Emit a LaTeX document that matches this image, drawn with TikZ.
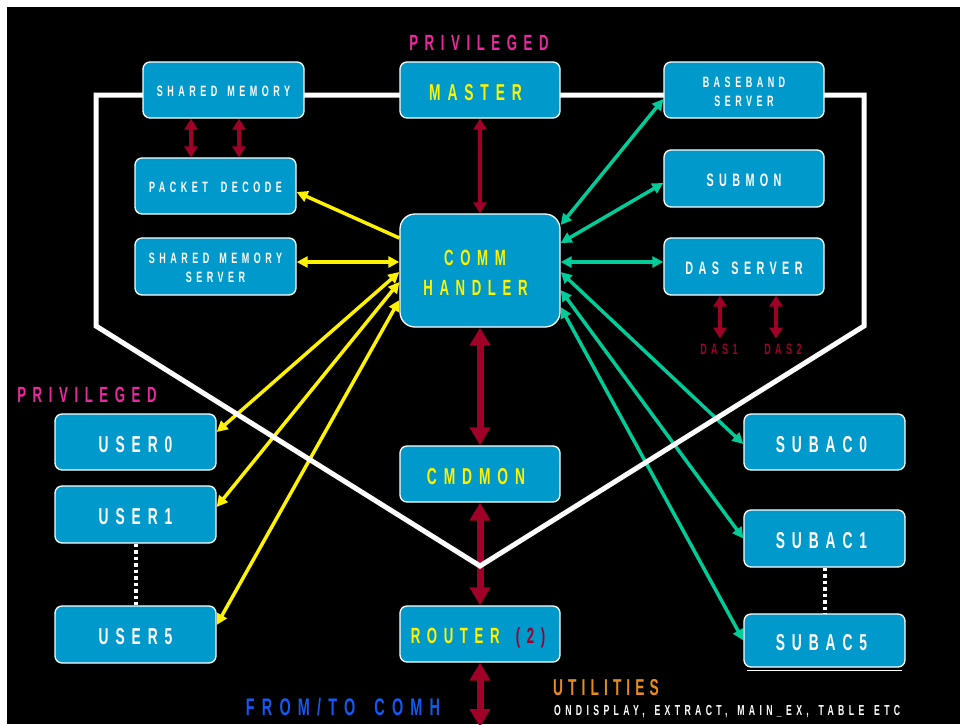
\documentclass[tikz,border=0pt]{standalone}
\usepackage{fontspec}
\usetikzlibrary{arrows.meta}
% condensed, widely tracked sans for every label
\newfontfamily\lblfont[FakeStretch=0.6,LetterSpace=30]{Liberation Sans}
\newfontfamily\utilfont[FakeStretch=0.6,LetterSpace=22]{Liberation Sans}
\newcommand\lblsize[2]{\fontsize{#1}{#2}\selectfont}
\definecolor{boxblue}{RGB}{0,153,204}
\definecolor{darkred}{RGB}{160,0,40}
\definecolor{tealgreen}{RGB}{0,204,153}
\definecolor{privpink}{RGB}{235,40,160}
\definecolor{linkblue}{RGB}{20,90,240}
\definecolor{utilorange}{RGB}{230,140,30}
\pgfdeclarelayer{ground}
\pgfdeclarelayer{links}
\pgfsetlayers{ground,links,main}
\tikzset{
  box/.style={draw=white, line width=1.3pt, fill=boxblue, rounded corners=7pt,
    minimum width=160pt, minimum height=56pt, inner sep=0pt, align=center, text=white},
  bigbox/.style={box, rounded corners=15pt, minimum height=113pt},
  t14/.style={font=\lblfont\bfseries\lblsize{14.5}{17}},
  t15/.style={font=\lblfont\bfseries\lblsize{15}{19}},
  t18/.style={font=\lblfont\bfseries\lblsize{18}{21}},
  t22/.style={font=\lblfont\bfseries\lblsize{22}{30}},
  t23/.style={font=\lblfont\bfseries\lblsize{23}{26}},
  % caps sit slightly below the middle of each box
  low15/.style={text height=13.7pt, text depth=0pt},
  low18/.style={text height=16.4pt, text depth=0pt},
  low22/.style={text height=19.7pt, text depth=0pt},
  low23/.style={text height=20.5pt, text depth=0pt},
  hot/.style={text=yellow},
  redA/.style={draw=darkred, line width=4.5pt,
    {Triangle[length=11pt,width=13pt]}-{Triangle[length=11pt,width=13pt]}},
  redB/.style={draw=darkred, line width=7pt,
    {Triangle[length=18pt,width=20pt]}-{Triangle[length=18pt,width=20pt]}},
  yelA/.style={draw=yellow, line width=3.5pt, -{Triangle[length=11pt,width=11pt]}},
  yelB/.style={draw=yellow, line width=3.5pt,
    {Triangle[length=11pt,width=11pt]}-{Triangle[length=11pt,width=11pt]}},
  grnB/.style={draw=tealgreen, line width=3.5pt,
    {Triangle[length=11pt,width=11pt]}-{Triangle[length=11pt,width=11pt]}},
  dots/.style={draw=white, line width=4pt, dash pattern=on 3.5pt off 3pt},
  frame/.style={draw=white, line width=5pt, line join=miter},
  free/.style={inner sep=0pt}
}
\begin{document}
\begin{tikzpicture}[x=1pt,y=-1pt]
% page: thin white margin at top and left, black field
\begin{pgfonlayer}{ground}
\fill[white] (0,0) rectangle (960,724);
\fill[black] (7,7) rectangle (960,724);
\end{pgfonlayer}
\useasboundingbox (0,0) rectangle (960,724);

% boxes
\node[box, t15, low15, minimum width=161pt] (shm) at (223.5,90) {SHARED \hspace*{3pt}MEMORY};
\node[box, t23, low23, hot] (master) at (480,90) {MASTER\kern9pt};
\node[box, t15, text height=33.7pt, text depth=0pt] (base) at (744,90) {BASEBAND\\SERVER};
\node[box, t15, low15, minimum width=161pt] (pd) at (215.5,186) {PACKET \hspace*{6pt}DECODE};
\node[box, t15, text height=31.7pt, text depth=0pt, minimum width=161pt, minimum height=57pt] (shms) at (215.5,266.5) {SHARED \hspace*{3pt}MEMORY\\SERVER};
\node[box, t18, low18, minimum height=57pt] (submon) at (744,178.5) {SUBMON};
\node[bigbox, t22, hot, text height=49.7pt, text depth=0pt] (comm) at (480,270.5) {COMM\kern10pt\\HANDLER\kern9pt};
\node[box, t18, low18, minimum height=57pt] (das) at (744,266.5) {DAS \hspace*{4pt}SERVER};
\node[box, t23, low23, minimum width=161pt] (user0) at (135.5,442) {USER0};
\node[box, t23, low23, minimum width=161pt, minimum height=57pt] (user1) at (135.5,514.5) {USER1};
\node[box, t23, low23, minimum width=161pt, minimum height=57pt] (user5) at (135.5,634.5) {USER5};
\node[box, t23, low23, hot] (cmdmon) at (480,474) {CMDMON\kern8pt};
\node[box, t22, low22, hot] (router) at (480,634) {ROUTER \hspace*{6pt}\textcolor{darkred}{(2)}\kern4pt};
\node[box, t23, low23, minimum width=161pt] (subac0) at (824.5,442) {SUBAC0\kern6pt};
\node[box, t23, low23, minimum width=161pt, minimum height=57pt] (subac1) at (824.5,538.5) {SUBAC1\kern6pt};
\node[box, t23, low23, minimum width=161pt, minimum height=53pt] (subac5) at (824.5,640.5) {SUBAC5\kern6pt};
\draw[white, line width=1.3pt] ([xshift=4pt,yshift=-3pt]subac5.south west) -- ([xshift=-4pt,yshift=-3pt]subac5.south east);

% free labels
\node[free, t22, text=privpink] (privtop) at (479,43) {PRIVILEGED};
\node[free, font=\lblfont\bfseries\lblsize{22}{26}, text=privpink] (privleft) at (87,395) {PRIVILEGED};
\node[free, t15, text=darkred] (das1) at (719,349) {DAS1};
\node[free, t15, text=darkred] (das2) at (783,349) {DAS2};
\node[free, font=\lblfont\bfseries\lblsize{24}{28}, text=linkblue] (fromto) at (343,707) {FROM/TO \hspace*{8pt}COMH};
\node[free, font=\utilfont\bfseries\lblsize{23}{26}, text=utilorange, anchor=west] (util) at (553,687.5) {UTILITIES};
\node[free, t14, text=white, anchor=west] (utillist) at (554,712) {ONDISPLAY, \hspace*{3pt}EXTRACT, \hspace*{3pt}MAIN\_EX, \hspace*{3pt}TABLE \hspace*{3pt}ETC};
\coordinate (exit) at (480,727);

\begin{pgfonlayer}{links}
% dark red links
\draw[redA] ([xshift=-32.5pt]shm.south) -- ([xshift=-32.5pt]shm.south |- pd.north);
\draw[redA] ([xshift=15.5pt]shm.south) -- ([xshift=15.5pt]shm.south |- pd.north);
\draw[redA] (master.south) -- (comm.north);
\draw[redA] ([xshift=-24pt]das.south) -- ([xshift=-24pt,yshift=5pt]das.south |- das1.north);
\draw[redA] ([xshift=32pt]das.south) -- ([xshift=32pt,yshift=5pt]das.south |- das2.north);
\draw[redB] (comm.south) -- (cmdmon.north);
\draw[redB] (cmdmon.south) -- (router.north);
\draw[redB] (router.south) -- (exit);

% yellow links on the left of the handler
\draw[yelA] ([yshift=32.5pt]comm.west) -- ([yshift=-6pt]pd.east);
\draw[yelB] ([yshift=4.5pt]shms.east) -- ([yshift=8.5pt]comm.west);
\draw[yelB] ([yshift=-1.5pt]comm.west) -- ([yshift=10pt]user0.east);
\draw[yelB] ([yshift=-11.5pt]comm.west) -- ([yshift=7.5pt]user1.east);
\draw[yelB] ([yshift=-29.5pt]comm.west) -- ([yshift=9.5pt]user5.east);

% green links on the right of the handler
\draw[grnB] ([yshift=45.5pt]comm.east) -- ([yshift=-9pt]base.west);
\draw[grnB] ([yshift=27.5pt]comm.east) -- ([yshift=-4.5pt]submon.west);
\draw[grnB] ([yshift=8.5pt]comm.east) -- ([yshift=4.5pt]das.west);
\draw[grnB] ([yshift=-1.5pt]comm.east) -- ([yshift=-2pt]subac0.west);
\draw[grnB] ([yshift=-19.5pt]comm.east) -- (subac1.west);
\draw[grnB] ([yshift=-36.5pt]comm.east) -- (subac5.west);

% dotted continuation marks
\draw[dots] (user1.south) -- (user5.north);
\draw[dots] (subac1.south) -- (subac5.north);

% white outline of the privileged region, over the links, under the boxes
\draw[frame] (96,95) -- (864,95) -- (864,326) -- (480,566) -- (96,326) -- cycle;
\end{pgfonlayer}
\end{tikzpicture}
\end{document}
